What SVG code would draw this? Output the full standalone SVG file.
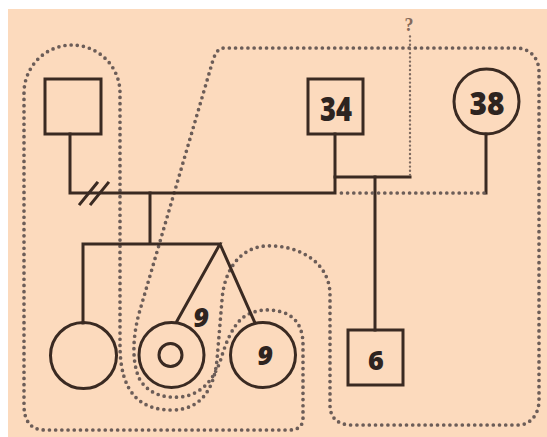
<svg xmlns="http://www.w3.org/2000/svg" width="547" height="437" viewBox="0 0 547 437">
  <style>
    .ln{fill:none;stroke:#3a2a22;stroke-width:3;stroke-linecap:square}
    .nd{fill:none;stroke:#3a2a22;stroke-width:3}
    .dot{fill:none;stroke:#6c5d58;stroke-width:3.7;stroke-linecap:round;stroke-dasharray:0 6.2}
    .fine{fill:none;stroke:#7e6a60;stroke-width:2.4;stroke-linecap:round;stroke-dasharray:0 4.2}
    .lbl{font-family:"Open Sans","DejaVu Sans",sans-serif;font-weight:800;fill:#2e2420;text-anchor:middle}
    .q{font-family:"Liberation Serif",serif;font-weight:bold;font-size:18px;fill:#85695a;text-anchor:middle}
  </style>
  <rect x="0" y="0" width="547" height="437" fill="#ffffff"/>
  <rect x="8" y="9" width="539" height="428" fill="#fcdabd"/>

  <g id="households">
    <path class="dot" d="M24,93 A48,48 0 0 1 120,93 L120,345 C120,395 142,410 172,410 C200,410 214,390 217,360 L222,300 C224,270 240,248 265,246 C295,244 330,260 330,295 L330,405 C330,418 338,425 352,425 L518,425 C530,425 539,415 539,400 L539,72 C539,58 530,48 516,48 L224,48 C218,48 215,54 213,60 L140,310 C134,330 130,360 140,380 C150,395 165,398 180,397 C200,395 212,382 220,362 C225,345 232,325 245,316 C255,310 268,308 282,312 C298,317 303,330 303,345 L303,418 C303,426 298,430 290,430 L45,430 C30,430 24,420 24,405 Z"/>
  </g>

  <g id="connectors">
    <path class="ln" d="M70,134 V193 H335 V134"/>
    <path class="ln" d="M80,204 L97,183 M91,204 L108,183"/>
    <path class="ln" d="M335,177 H410"/>
    <path class="ln" d="M375,177 V330"/>
    <path class="ln" d="M486,134 V193"/>
    <path class="dot" d="M484,193 H340"/>
    <path class="fine" d="M410,175 V35"/>
    <path class="ln" d="M150,193 V244 M83,323 V244 H220 L177,321 M220,244 L255,323"/>
  </g>

  <g id="father">
    <rect class="nd" x="45" y="79" width="56" height="55"/>
  </g>
  <g id="stepfather">
    <rect class="nd" x="308" y="79" width="55" height="55"/>
    <text class="lbl" x="336" y="121" font-size="33" textLength="32" lengthAdjust="spacingAndGlyphs">34</text>
  </g>
  <g id="partner38">
    <circle class="nd" cx="486.5" cy="101.5" r="32.5"/>
    <text class="lbl" x="487" y="115" font-size="31" textLength="35" lengthAdjust="spacingAndGlyphs">38</text>
  </g>
  <g id="unknown">
    <text class="q" x="409" y="31">?</text>
  </g>
  <g id="son6">
    <rect class="nd" x="348" y="330" width="55" height="55"/>
    <text class="lbl" x="376" y="370" font-size="27">6</text>
  </g>
  <g id="daughter">
    <circle class="nd" cx="83.5" cy="355.5" r="33"/>
  </g>
  <g id="twin-index">
    <circle class="nd" cx="171.5" cy="355" r="32.5"/>
    <circle class="nd" cx="170.5" cy="355" r="11.5"/>
    <text class="lbl" x="201" y="327" font-size="27" font-style="italic">9</text>
  </g>
  <g id="twin">
    <circle class="nd" cx="263" cy="355" r="32.5"/>
    <text class="lbl" x="265" y="365" font-size="27" font-style="italic">9</text>
  </g>
</svg>
